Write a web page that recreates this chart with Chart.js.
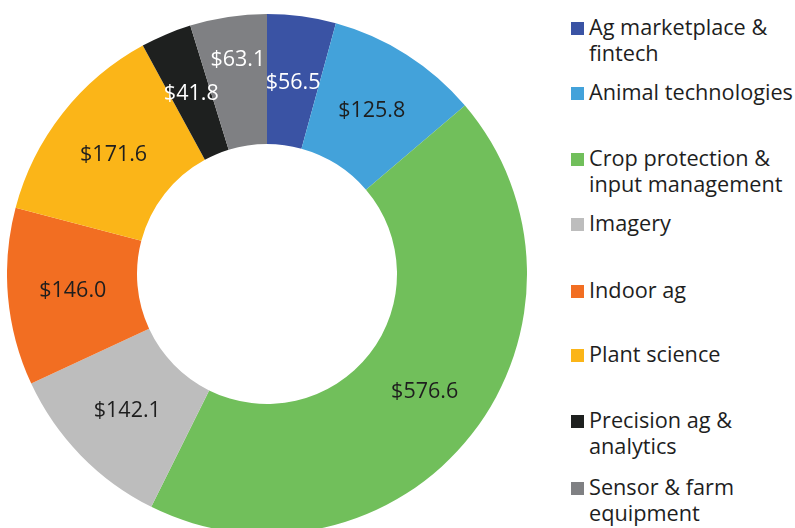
<!DOCTYPE html>
<html>
<head>
<meta charset="utf-8">
<script src="https://cdn.jsdelivr.net/npm/chart.js@4/dist/chart.umd.min.js"></script>
<style>
  html, body { margin: 0; padding: 0; background: #fff; width: 795px; height: 528px; overflow: hidden; }
  body { position: relative; font-family: "Open Sans", sans-serif; color: #1e1e1e; }
  #wrap { position: absolute; left: 7px; top: 14px; width: 520px; height: 520px; }
  #legend { position: absolute; left: 571px; top: 0; }
  .item { position: absolute; left: 0; width: 230px; }
  .sw { position: absolute; left: 0; width: 13px; height: 13px; }
  .txt { position: absolute; left: 18px; font-size: 21.7px; line-height: 26px; white-space: nowrap; }
</style>
</head>
<body>
<div id="wrap"><canvas id="donut" width="520" height="520"></canvas></div>
<div id="legend"></div>
<script>
// categories (legend text, line breaks as in the source)
const categorias = [
  ['Ag marketplace &', 'fintech'],
  ['Animal technologies'],
  ['Crop protection &', 'input management'],
  ['Imagery'],
  ['Indoor ag'],
  ['Plant science'],
  ['Precision ag &', 'analytics'],
  ['Sensor & farm', 'equipment']
];
// values ($)
const valores = [56.5, 125.8, 576.6, 142.1, 146.0, 171.6, 41.8, 63.1];

const cores = ['#3a53a4', '#43a2da', '#71bf5b', '#bdbdbd', '#f26e22', '#fbb518', '#1e201f', '#7f8083'];
const coresTexto = ['#ffffff', '#1e1e1e', '#1e1e1e', '#1e1e1e', '#1e1e1e', '#1e1e1e', '#ffffff', '#ffffff'];
// small vertical nudges of the value labels (px), as in the source layout
const ajusteRotulo = [2, 1, -2, 1, 0, 1, 0, -21];
// vertical position of each legend entry (first line centre)
const legendaY = [27, 92, 158, 223, 290, 354, 420, 487];

// === LEGENDA ===
const leg = document.getElementById('legend');
categorias.forEach((linhas, i) => {
  const item = document.createElement('div');
  item.className = 'item';
  item.style.top = (legendaY[i] - 13) + 'px';
  item.innerHTML = '<div class="sw" style="top:8px;background:' + cores[i] + '"></div>' +
    '<div class="txt" style="top:0">' + linhas.join('<br>') + '</div>';
  leg.appendChild(item);
});

// === RÓTULOS ===
const rotulos = {
  id: 'rotulos',
  afterDatasetsDraw(chart) {
    const ctx = chart.ctx;
    const meta = chart.getDatasetMeta(0);
    ctx.save();
    ctx.font = '21.5px "Open Sans", sans-serif';
    ctx.textAlign = 'center';
    ctx.textBaseline = 'middle';
    meta.data.forEach((arc, i) => {
      const p = arc.tooltipPosition();
      ctx.fillStyle = coresTexto[i];
      ctx.fillText('$' + valores[i].toFixed(1), p.x + (i === 2 ? 4 : 0), p.y + ajusteRotulo[i]);
    });
    ctx.restore();
  }
};

new Chart(document.getElementById('donut'), {
  type: 'doughnut',
  data: {
    labels: categorias.map(l => l.join(' ')),
    datasets: [{
      data: valores,
      backgroundColor: cores,
      borderWidth: 0
    }]
  },
  options: {
    responsive: false,
    animation: false,
    cutout: '50%',
    layout: { padding: 0 },
    plugins: { legend: { display: false }, tooltip: { enabled: false } }
  },
  plugins: [rotulos]
});
</script>
</body>
</html>
